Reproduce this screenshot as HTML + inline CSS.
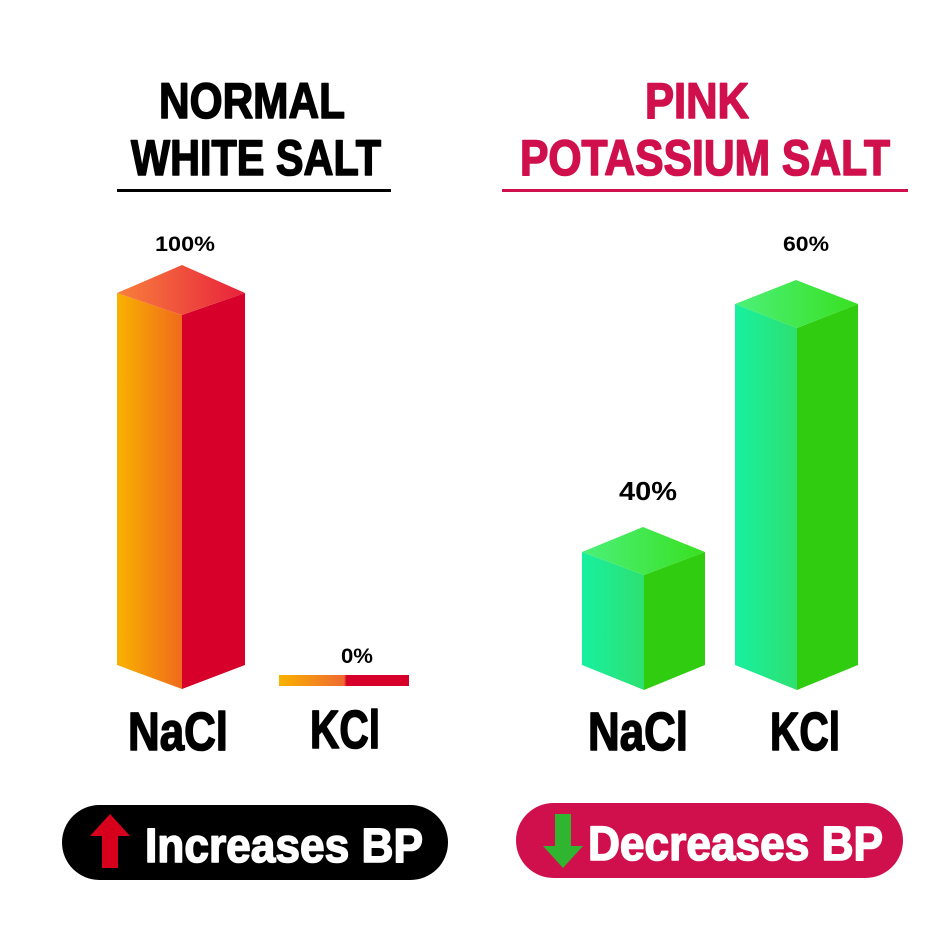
<!DOCTYPE html>
<html><head><meta charset="utf-8"><style>
html,body{margin:0;padding:0;background:#fff;}
svg{display:block}
text{font-family:"Liberation Sans Narrow","Liberation Sans",sans-serif;font-weight:bold;}
.t{stroke-width:1.6;stroke-linejoin:round}
</style></head><body>
<svg width="940" height="940" viewBox="0 0 940 940" xmlns="http://www.w3.org/2000/svg">
<defs>
<linearGradient id="oL" x1="0" x2="1" y1="0" y2="0"><stop offset="0" stop-color="#f9b200"/><stop offset="1" stop-color="#ef6a1c"/></linearGradient>
<linearGradient id="oT" x1="0" x2="1" y1="0" y2="0"><stop offset="0" stop-color="#f8803c"/><stop offset="1" stop-color="#e8213c"/></linearGradient>
<linearGradient id="gL" x1="0" x2="1" y1="0" y2="0"><stop offset="0" stop-color="#18f0a0"/><stop offset="1" stop-color="#2ee070"/></linearGradient>
<linearGradient id="gT" x1="0" x2="1" y1="0" y2="0"><stop offset="0" stop-color="#4cf07a"/><stop offset="1" stop-color="#38e020"/></linearGradient>
<linearGradient id="kb" x1="0" x2="1" y1="0" y2="0"><stop offset="0" stop-color="#f9b200"/><stop offset="0.5" stop-color="#ef6a30"/><stop offset="0.52" stop-color="#d6002a"/><stop offset="1" stop-color="#d6002a"/></linearGradient>
</defs>

<text class="t" stroke="#000" x="252" y="118" font-size="50" text-anchor="middle" textLength="186" lengthAdjust="spacingAndGlyphs">NORMAL</text>
<text class="t" stroke="#000" x="256" y="175" font-size="50" text-anchor="middle" textLength="250" lengthAdjust="spacingAndGlyphs">WHITE SALT</text>
<rect x="117" y="189" width="274" height="3" fill="#000"/>
<text class="t" stroke="#d0104c" x="697" y="118" font-size="50" text-anchor="middle" fill="#d0104c" textLength="104" lengthAdjust="spacingAndGlyphs">PINK</text>
<text class="t" stroke="#d0104c" x="705" y="175" font-size="50" text-anchor="middle" fill="#d0104c" textLength="370" lengthAdjust="spacingAndGlyphs">POTASSIUM SALT</text>
<rect x="502" y="189" width="406" height="3" fill="#d0104c"/>

<polygon points="117,293 182,315 182,689 117,665" fill="url(#oL)"/>
<polygon points="182,315 245,293 245,665 182,689" fill="#d6002a"/>
<polygon points="117,293 182,265 245,293 182,315" fill="url(#oT)"/>
<text x="185" y="251" font-size="21" text-anchor="middle" textLength="60" lengthAdjust="spacingAndGlyphs">100%</text>

<rect x="279" y="675" width="130" height="11" fill="url(#kb)"/>
<text x="357" y="663" font-size="21" text-anchor="middle" textLength="32" lengthAdjust="spacingAndGlyphs">0%</text>

<polygon points="582,552 644,575 644,690 582,665" fill="url(#gL)"/>
<polygon points="644,575 705,552 705,665 644,690" fill="#30cc10"/>
<polygon points="582,552 643,527 705,552 644,575" fill="url(#gT)"/>
<text x="648" y="500" font-size="26" text-anchor="middle" textLength="58" lengthAdjust="spacingAndGlyphs">40%</text>

<polygon points="735,304 797,328 797,690 735,665" fill="url(#gL)"/>
<polygon points="797,328 858,304 858,665 797,690" fill="#30cc10"/>
<polygon points="735,304 796,280 858,304 797,328" fill="url(#gT)"/>
<text x="806" y="251" font-size="21" text-anchor="middle" textLength="46" lengthAdjust="spacingAndGlyphs">60%</text>

<text class="t" stroke="#000" x="178" y="750" font-size="54" text-anchor="middle" textLength="100" lengthAdjust="spacingAndGlyphs">NaCl</text>
<text class="t" stroke="#000" x="345" y="748" font-size="54" text-anchor="middle" textLength="70" lengthAdjust="spacingAndGlyphs">KCl</text>
<text class="t" stroke="#000" x="638" y="750" font-size="54" text-anchor="middle" textLength="100" lengthAdjust="spacingAndGlyphs">NaCl</text>
<text class="t" stroke="#000" x="805" y="750" font-size="54" text-anchor="middle" textLength="70" lengthAdjust="spacingAndGlyphs">KCl</text>

<rect x="62" y="805" width="386" height="75" rx="37.5" fill="#000"/>
<polygon points="110,814 130,836 118,836 118,868 102,868 102,836 90,836" fill="#d6001c"/>
<text class="t" stroke="#fff" x="145" y="862" font-size="48" fill="#fff" textLength="278" lengthAdjust="spacingAndGlyphs">Increases BP</text>
<rect x="516" y="803" width="387" height="75" rx="37.5" fill="#d0104c"/>
<polygon points="563,868 583,846 571,846 571,814 555,814 555,846 543,846" fill="#2fb52f"/>
<text class="t" stroke="#fff" x="588" y="860" font-size="48" fill="#fff" textLength="295" lengthAdjust="spacingAndGlyphs">Decreases BP</text>
</svg>
</body></html>
